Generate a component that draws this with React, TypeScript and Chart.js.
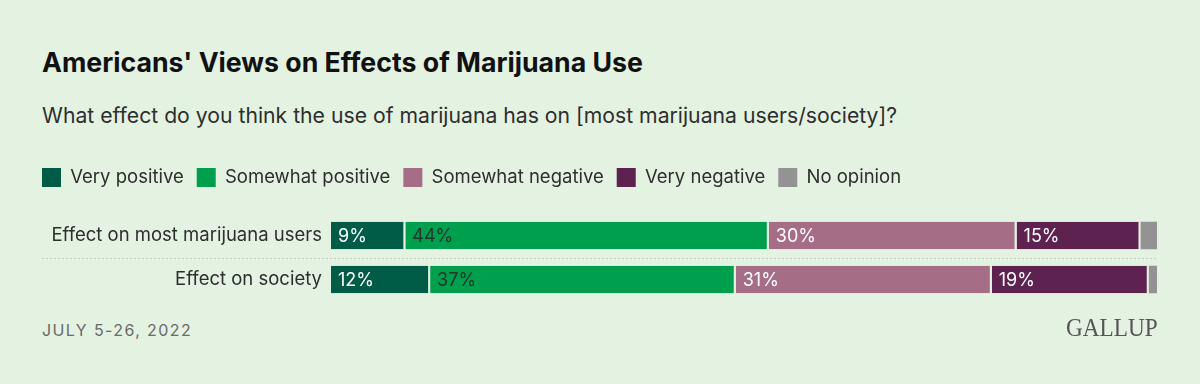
import React, { useEffect, useRef } from "react";
import { Chart, registerables } from "chart.js";

Chart.register(...registerables);

const categories = ["Effect on most marijuana users", "Effect on society"];
const seriesNames = ["Very positive", "Somewhat positive", "Somewhat negative", "Very negative", "No opinion"];
const veryPositive = [9, 12];
const somewhatPositive = [44, 37];
const somewhatNegative = [30, 31];
const veryNegative = [15, 19];
const noOpinion = [2, 1];
const seriesColors = ["#005c46", "#009f4d", "#a66e86", "#5d224f", "#939393"];
const labelColors = ["#ffffff", "#23352a", "#ffffff", "#ffffff", null];

const FONT = "Inter, 'Noto Sans', sans-serif";
const BG = "#e4f2e2";

const separatorPlugin = {
  id: "separator",
  beforeDatasetsDraw(chart: any) {
    const y = chart.scales.y;
    const ctx = chart.ctx;
    const mid = (y.getPixelForValue(0) + y.getPixelForValue(1)) / 2;
    ctx.save();
    ctx.strokeStyle = "#c3cfc2";
    ctx.lineWidth = 1;
    ctx.setLineDash([2, 2]);
    ctx.beginPath();
    ctx.moveTo(42, Math.round(mid) + 0.5);
    ctx.lineTo(chart.chartArea.right, Math.round(mid) + 0.5);
    ctx.stroke();
    ctx.restore();
  },
};

const valueLabelPlugin = {
  id: "valueLabels",
  afterDatasetsDraw(chart: any) {
    const ctx = chart.ctx;
    ctx.save();
    ctx.font = `18px ${FONT}`;
    ctx.textBaseline = "middle";
    ctx.textAlign = "left";
    chart.data.datasets.forEach((ds: any, di: number) => {
      const color = labelColors[di];
      if (!color) return;
      const meta = chart.getDatasetMeta(di);
      meta.data.forEach((bar: any, i: number) => {
        const v = ds.data[i];
        const left = Math.min(bar.base, bar.x);
        ctx.fillStyle = color;
        ctx.fillText(`${v}%`, left + 7, bar.y + 1);
      });
    });
    ctx.restore();
  },
};

const legendHeightPlugin = {
  id: "legendHeight",
  beforeInit(chart: any) {
    const legend = chart.legend;
    if (!legend) return;
    const orig = legend.fit;
    legend.fit = function () {
      orig.call(this);
      this.height = 58.5;
    };
  },
};

export default function App() {
  const ref = useRef<HTMLCanvasElement | null>(null);

  useEffect(() => {
    document.body.style.margin = "0";
    const values = [veryPositive, somewhatPositive, somewhatNegative, veryNegative, noOpinion];
    const chart = new Chart(ref.current as HTMLCanvasElement, {
      type: "bar",
      data: {
        labels: categories,
        datasets: seriesNames.map((name, i) => ({
          label: name,
          data: values[i],
          backgroundColor: seriesColors[i],
          borderColor: BG,
          borderWidth: { left: 0, top: 0, bottom: 0, right: i < 4 ? 2 : 0 },
          borderSkipped: false,
          categoryPercentage: 0.62,
          barPercentage: 1,
        })),
      },
      options: {
        indexAxis: "y",
        animation: false,
        responsive: false,
        maintainAspectRatio: false,
        layout: { padding: { left: 29, right: 43, top: 0, bottom: 13.5 } },
        scales: {
          x: { stacked: true, min: 0, max: 100, display: false },
          y: {
            stacked: true,
            grid: { display: false, drawTicks: false },
            border: { display: false },
            ticks: {
              padding: 9,
              color: "#2e2e2e",
              font: { family: FONT, size: 18.5 },
            },
            afterFit(scale: any) {
              scale.width = 302;
              scale.paddingTop = 0;
              scale.paddingBottom = 0;
            },
          },
        },
        plugins: {
          tooltip: { enabled: false },
          legend: {
            position: "top",
            align: "start",
            labels: {
              boxWidth: 19,
              boxHeight: 19,
              padding: 13,
              color: "#2e2e2e",
              font: { family: FONT, size: 18.5 },
              generateLabels(c: any) {
                return Chart.defaults.plugins.legend.labels
                  .generateLabels(c)
                  .map((l: any) => ({ ...l, lineWidth: 0, strokeStyle: "rgba(0,0,0,0)" }));
              },
            },
            onClick: () => {},
          },
        },
      },
      plugins: [legendHeightPlugin, separatorPlugin, valueLabelPlugin],
    } as any);
    return () => chart.destroy();
  }, []);

  return (
    <div style={{ position: "relative", width: 1200, height: 384, background: BG, overflow: "hidden", fontFamily: FONT }}>
      <div style={{ position: "absolute", left: 42, top: 45, fontSize: 26.7, fontWeight: 700, lineHeight: "34px", color: "#111", whiteSpace: "nowrap" }}>
        Americans' Views on Effects of Marijuana Use
      </div>
      <div style={{ position: "absolute", left: 42, top: 101, fontSize: 21.2, lineHeight: "28px", color: "#2e2e2e", whiteSpace: "nowrap" }}>
        What effect do you think the use of marijuana has on [most marijuana users/society]?
      </div>
      <canvas ref={ref} width={1200} height={160} style={{ position: "absolute", left: 0, top: 155, width: 1200, height: 160 }} />
      <div style={{ position: "absolute", left: 42, top: 319, fontSize: 16, letterSpacing: "1.4px", lineHeight: "22px", color: "#6a6a6a", whiteSpace: "nowrap" }}>
        JULY 5-26, 2022
      </div>
      <div style={{ position: "absolute", right: 42, top: 313, fontSize: 25, lineHeight: "30px", color: "#555", fontFamily: "'Liberation Serif', 'DejaVu Serif', serif", transform: "scaleX(0.93)", transformOrigin: "right center", whiteSpace: "nowrap" }}>
        GALLUP
      </div>
    </div>
  );
}
